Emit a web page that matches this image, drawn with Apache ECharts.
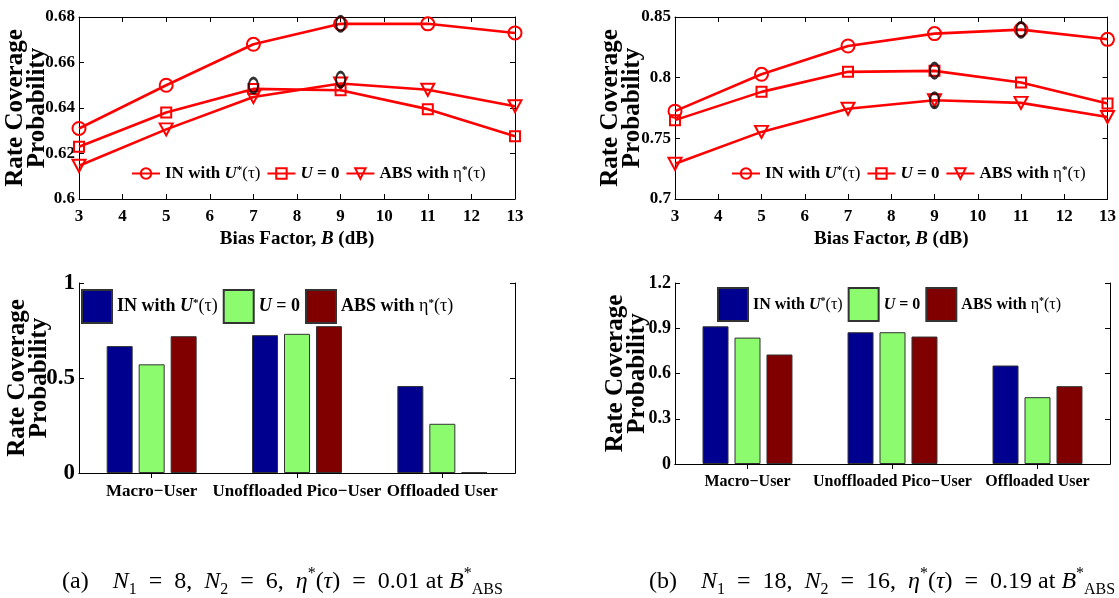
<!DOCTYPE html>
<html>
<head>
<meta charset="utf-8">
<script src="https://cdn.jsdelivr.net/npm/echarts@6/dist/echarts.min.js"></script>
<style>
html,body{margin:0;padding:0;background:#fff;}
#c{width:1119px;height:598px;}
</style>
</head>
<body>
<div id="c"></div>
<script>
// ---------- data ----------
const biasX = [3, 5, 7, 9, 11, 13];
// (a) line chart
const aIN  = [0.631, 0.650, 0.668, 0.677, 0.677, 0.673];
const aU0  = [0.623, 0.638, 0.6484, 0.6478, 0.6395, 0.6276];
const aABS = [0.6146, 0.6306, 0.6448, 0.6508, 0.648, 0.6408];
const aOpt = [[9, 0.677], [7, 0.6499], [9, 0.6525]];
// (b) line chart
const bIN  = [0.7724, 0.8028, 0.8261, 0.8363, 0.8396, 0.8316];
const bU0  = [0.765, 0.7883, 0.8048, 0.8056, 0.796, 0.7787];
const bABS = [0.7290, 0.7553, 0.7744, 0.7814, 0.7792, 0.7676];
const bOpt = [[11, 0.8395], [9, 0.8058], [9, 0.7814]];
// bar charts
const userCats = ['Macro\u2212User', 'Unoffloaded Pico\u2212User', 'Offloaded User'];
const cIN  = [0.668, 0.7255, 0.458];
const cU0  = [0.572, 0.7325, 0.259];
const cABS = [0.720, 0.773, 0.003];
const dIN  = [0.913, 0.8736, 0.653];
const dU0  = [0.838, 0.8736, 0.443];
const dABS = [0.726, 0.845, 0.516];

// ---------- styling ----------
const FF = 'Liberation Serif';
const RED = '#ff0000';
const BLUE = '#00008f', GREEN = '#8cfb6e', MAROON = '#800000';
const pairs = (xs, ys) => xs.map((x, i) => [x, ys[i]]);
const fmt = v => String(+v.toFixed(2));

const legendRich = (fs) => ({
  u: {fontFamily: FF, fontWeight: 'bold', fontStyle: 'italic', fontSize: fs, color: '#000'},
  s: {fontFamily: FF, fontWeight: 'bold', fontSize: Math.round(fs * 0.62), verticalAlign: 'top', color: '#000'},
  n: {fontFamily: FF, fontWeight: 'normal', fontSize: fs, color: '#000'}
});
const legendFmt = name => {
  const k = name.split('_')[0];
  if (k === 'IN') return 'IN with {u|U}{s|*}{n|(τ)}';
  if (k === 'U0') return '{u|U} = 0';
  return 'ABS with {n|η}{s|*}{n|(τ)}';
};

const grids = [
  {left: 79, top: 17, width: 436, height: 182},
  {left: 675, top: 17, width: 435, height: 182},
  {left: 79, top: 283, width: 436, height: 190},
  {left: 675, top: 283, width: 435, height: 181}
];

const axLine = {show: true, lineStyle: {color: '#000', width: 1}};
const tickIn = {show: true, inside: true, length: 5, lineStyle: {color: '#000'}};

function valX(gi, pos, show) {
  return {
    type: 'value', gridIndex: gi, position: pos, min: 3, max: 13, interval: 1,
    axisLine: axLine, axisTick: tickIn, splitLine: {show: false},
    axisLabel: {show: show, margin: 9, fontFamily: FF, fontWeight: 'bold', fontSize: 17, color: '#000'},
    name: show ? 'Bias Factor, {i|B} (dB)' : '',
    nameLocation: 'middle', nameGap: 31, nameMoveOverlap: false,
    nameTextStyle: {fontFamily: FF, fontWeight: 'bold', fontSize: 19, color: '#000',
      rich: {i: {fontFamily: FF, fontWeight: 'bold', fontStyle: 'italic', fontSize: 19, color: '#000'}}}
  };
}
function catX(gi, pos, show, fs) {
  return {
    type: 'category', gridIndex: gi, position: pos, data: userCats, boundaryGap: true,
    axisLine: axLine, axisTick: {show: true, inside: true, length: 5, alignWithLabel: true, lineStyle: {color: '#000'}},
    splitLine: {show: false},
    axisLabel: {show: show, margin: 10, interval: 0, fontFamily: FF, fontWeight: 'bold', fontSize: fs, color: '#000'}
  };
}
function valY(gi, pos, show, min, max, iv, fs, gap) {
  return {
    type: 'value', gridIndex: gi, position: pos, min: min, max: max, interval: iv,
    axisLine: axLine, axisTick: tickIn, splitLine: {show: false},
    axisLabel: {show: show, margin: 4, formatter: fmt, fontFamily: FF, fontWeight: 'bold', fontSize: fs, color: '#000'},
    name: show ? 'Rate Coverage\nProbability' : '',
    nameLocation: 'middle', nameGap: gap, nameRotate: 90, nameMoveOverlap: false,
    nameTextStyle: {fontFamily: FF, fontWeight: 'bold', fontSize: 25, lineHeight: 22, color: '#000'}
  };
}

function lineSeries(name, xi, yi, data, sym, size) {
  return {
    name: name, type: 'line', xAxisIndex: xi, yAxisIndex: yi, data: data,
    symbol: sym, symbolSize: size, showAllSymbol: true,
    lineStyle: {color: RED, width: 2.6},
    itemStyle: {color: 'rgba(255,255,255,0)', borderColor: RED, borderWidth: 2},
    animation: false
  };
}
const TRI = 'path://M0,0 L10,0 L5,9 Z';
function optSeries(xi, yi, data) {
  return {
    type: 'scatter', xAxisIndex: xi, yAxisIndex: yi, data: data,
    symbol: 'circle', symbolSize: [9, 15], z: 5,
    itemStyle: {color: 'rgba(0,0,0,0)', borderColor: '#000', borderWidth: 2.4},
    animation: false, silent: true
  };
}
function barSeries(name, xi, yi, data, color) {
  return {
    name: name, type: 'bar', xAxisIndex: xi, yAxisIndex: yi, data: data,
    barWidth: 26, barGap: '23%',
    itemStyle: {color: color, borderColor: '#333', borderWidth: 1},
    animation: false
  };
}

const CF = 24;
const capRich = {
  i: {fontFamily: FF, fontStyle: 'italic', fontSize: CF, color: '#000'},
  sb: {fontFamily: FF, fontSize: 16, verticalAlign: 'bottom', color: '#000'},
  sp: {fontFamily: FF, fontSize: 16, verticalAlign: 'top', color: '#000'}
};
const SP = '\u2002';
const capA = '(a)\u2003{i|N}{sb|1}' + SP + '=' + SP + '8,\u2002{i|N}{sb|2}' + SP + '=' + SP + '6,\u2002{i|η}{sp|*}({i|τ})' + SP + '=' + SP + '0.01 at {i|B}{sp|*}{sb|ABS}';
const capB = '(b)\u2003{i|N}{sb|1}' + SP + '=' + SP + '18,\u2002{i|N}{sb|2}' + SP + '=' + SP + '16,\u2002{i|η}{sp|*}({i|τ})' + SP + '=' + SP + '0.19 at {i|B}{sp|*}{sb|ABS}';

const lineLegend = (names, left) => ({
  data: names, left: left, top: 165, width: 600, padding: 0, itemWidth: 28, itemHeight: 13, itemGap: 6,
  formatter: legendFmt,
  textStyle: {fontFamily: FF, fontWeight: 'bold', fontSize: 17, color: '#000', rich: legendRich(17)}
});
const barLegend = (names, left, top, fs) => ({
  data: names, left: left, top: top, width: 600, padding: 0, itemWidth: 30, itemHeight: 33, itemGap: 5,
  icon: 'rect', formatter: legendFmt,
  textStyle: {fontFamily: FF, fontWeight: 'bold', fontSize: fs, color: '#000', rich: legendRich(fs)}
});

const option = {
  backgroundColor: '#fff',
  animation: false,
  title: [
    {text: capA, left: 62, top: 566, padding: 0,
     textStyle: {fontFamily: FF, fontWeight: 'normal', fontSize: CF, lineHeight: 32, color: '#000', rich: capRich}},
    {text: capB, left: 649, top: 566, padding: 0,
     textStyle: {fontFamily: FF, fontWeight: 'normal', fontSize: CF, lineHeight: 32, color: '#000', rich: capRich}}
  ],
  grid: grids,
  legend: [
    lineLegend(['IN_a', 'U0_a', 'ABS_a'], 131),
    lineLegend(['IN_b', 'U0_b', 'ABS_b'], 731),
    barLegend(['IN_c', 'U0_c', 'ABS_c'], 81, 289, 18),
    barLegend(['IN_d', 'U0_d', 'ABS_d'], 717, 287, 16)
  ],
  xAxis: [
    valX(0, 'bottom', true), valX(0, 'top', false),
    valX(1, 'bottom', true), valX(1, 'top', false),
    catX(2, 'bottom', true, 17), catX(2, 'top', false, 17),
    catX(3, 'bottom', true, 16), catX(3, 'top', false, 16)
  ],
  yAxis: [
    valY(0, 'left', true, 0.6, 0.68, 0.02, 17, 30), valY(0, 'right', false, 0.6, 0.68, 0.02, 17, 0),
    valY(1, 'left', true, 0.7, 0.85, 0.05, 17, 31), valY(1, 'right', false, 0.7, 0.85, 0.05, 17, 0),
    valY(2, 'left', true, 0, 1, 0.5, 23, 28), valY(2, 'right', false, 0, 1, 0.5, 23, 0),
    valY(3, 'left', true, 0, 1.2, 0.3, 18, 26), valY(3, 'right', false, 0, 1.2, 0.3, 18, 0)
  ],
  series: [
    lineSeries('IN_a', 0, 0, pairs(biasX, aIN), 'circle', 13),
    lineSeries('U0_a', 0, 0, pairs(biasX, aU0), 'rect', 10),
    lineSeries('ABS_a', 0, 0, pairs(biasX, aABS), TRI, [13, 12]),
    optSeries(0, 0, aOpt),
    lineSeries('IN_b', 2, 2, pairs(biasX, bIN), 'circle', 13),
    lineSeries('U0_b', 2, 2, pairs(biasX, bU0), 'rect', 10),
    lineSeries('ABS_b', 2, 2, pairs(biasX, bABS), TRI, [13, 12]),
    optSeries(2, 2, bOpt),
    barSeries('IN_c', 4, 4, cIN, BLUE),
    barSeries('U0_c', 4, 4, cU0, GREEN),
    barSeries('ABS_c', 4, 4, cABS, MAROON),
    barSeries('IN_d', 6, 6, dIN, BLUE),
    barSeries('U0_d', 6, 6, dU0, GREEN),
    barSeries('ABS_d', 6, 6, dABS, MAROON)
  ]
};
const chart = echarts.init(document.getElementById('c'), null, {renderer: 'canvas'});
chart.setOption(option);
</script>
</body>
</html>
